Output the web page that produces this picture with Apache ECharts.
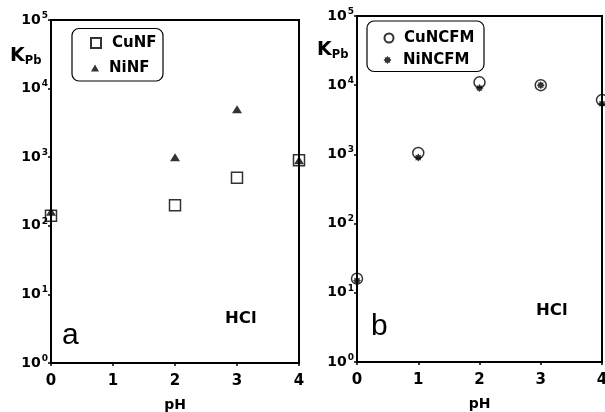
<!DOCTYPE html>
<html><head><meta charset="utf-8">
<script src="https://cdn.jsdelivr.net/npm/echarts@6/dist/echarts.min.js"></script>
<style>html,body{margin:0;padding:0;background:#fff}#c{width:605px;height:412px}</style>
</head><body><div id="c"></div>
<script>
const phA = [0, 2, 3, 4];
const cuNF = [140, 200, 500, 900];
const niNF = [160, 1000, 5000, 900];
const phB = [0, 1, 2, 3, 4];
const cuNCFM = [16, 1050, 11000, 10000, 6100];
const niNCFM = [15, 900, 9100, 10000, 5400];
const xTicks = [0, 1, 2, 3, 4];

const BOLD = '"DejaVu Sans", Verdana, sans-serif';
const THIN = '"Liberation Sans", Arial, Helvetica, sans-serif';
const chart = echarts.init(document.getElementById('c'), null, {renderer: 'canvas'});
const pair = (xs, ys) => xs.map((x, i) => [x, ys[i]]);
const star = 'path://M0,-10 L3,-6 L7.1,-7.1 L6,-3 L10,0 L6,3 L7.1,7.1 L3,6 L0,10 L-3,6 L-7.1,7.1 L-6,3 L-10,0 L-6,-3 L-7.1,-7.1 L-3,-6 Z';

function yAxis(gi) {
  return {
    type: 'log', logBase: 10, min: 1, max: 100000, gridIndex: gi,
    axisLine: {show: true, lineStyle: {color: '#000', width: 2}},
    axisTick: {show: true, length: 3, lineStyle: {color: '#000', width: 1.5}},
    minorTick: {show: false}, splitLine: {show: false},
    axisLabel: {
      margin: 3, color: '#000',
      formatter: v => '{b|10}{s|' + Math.round(Math.log10(v)) + '}',
      rich: {
        b: {fontFamily: BOLD, fontWeight: 'bold', fontSize: 14, color: '#000'},
        s: {fontFamily: BOLD, fontWeight: 'bold', fontSize: 9, color: '#000', verticalAlign: 'top', padding: [0, 0, 9, 1]}
      }
    }
  };
}
function xAxis(gi) {
  return {
    type: 'value', min: 0, max: 4, interval: 1, gridIndex: gi,
    name: 'pH', nameLocation: 'middle', nameGap: 35,
    nameTextStyle: {fontFamily: BOLD, fontWeight: 'bold', fontSize: 14, color: '#000'},
    axisLine: {show: true, lineStyle: {color: '#000', width: 2}},
    axisTick: {show: true, length: 3, lineStyle: {color: '#000', width: 1.5}},
    splitLine: {show: false},
    axisLabel: {margin: 11, color: '#000', fontFamily: BOLD, fontWeight: 'bold', fontSize: 15,
      formatter: v => xTicks.includes(v) ? String(v) : ''}
  };
}
function leg(name, left, cy, w, h, gap) {
  return {
    data: [name], left: left, top: cy - 8, padding: 0, itemWidth: w, itemHeight: h, selectedMode: false,
    textStyle: {fontFamily: BOLD, fontWeight: 'bold', fontSize: 15, color: '#000', lineHeight: 16, padding: [0, 0, 0, gap]}
  };
}

chart.setOption({
  animation: false,
  backgroundColor: '#fff',
  grid: [
    {left: 51, top: 20, width: 248, height: 343, outerBoundsMode: 'none', containLabel: false, show: true, borderColor: '#000', borderWidth: 2, backgroundColor: 'transparent'},
    {left: 357, top: 16, width: 245, height: 346, outerBoundsMode: 'none', containLabel: false, show: true, borderColor: '#000', borderWidth: 2, backgroundColor: 'transparent'}
  ],
  xAxis: [xAxis(0), xAxis(1)],
  yAxis: [yAxis(0), yAxis(1)],
  legend: [
    leg('CuNF', 90, 43, 10, 10, 6),
    leg('NiNF', 91, 68, 8, 7, 5),
    leg('CuNCFM', 383.5, 38, 9, 9, 5.5),
    leg('NiNCFM', 383.5, 60, 8, 8, 6.5)
  ],
  series: [
    {name: 'CuNF', type: 'scatter', xAxisIndex: 0, yAxisIndex: 0, symbol: 'rect', symbolSize: 11, clip: false,
     itemStyle: {color: 'rgba(255,255,255,0)', borderColor: '#000', borderWidth: 1.5}, data: pair(phA, cuNF), z: 3},
    {name: 'NiNF', type: 'scatter', xAxisIndex: 0, yAxisIndex: 0, symbol: 'triangle', symbolSize: [10, 8], clip: false,
     itemStyle: {color: '#000'}, data: pair(phA, niNF), z: 4},
    {name: 'CuNCFM', type: 'scatter', xAxisIndex: 1, yAxisIndex: 1, symbol: 'circle', symbolSize: 11, clip: false,
     itemStyle: {color: 'rgba(255,255,255,0)', borderColor: '#000', borderWidth: 1.5}, data: pair(phB, cuNCFM), z: 3},
    {name: 'NiNCFM', type: 'scatter', xAxisIndex: 1, yAxisIndex: 1, symbol: star, symbolSize: 8, clip: false,
     itemStyle: {color: '#000'}, data: pair(phB, niNCFM), z: 4}
  ],
  graphic: [
    {type: 'rect', shape: {x: 72, y: 28.5, width: 91, height: 52.5, r: 7}, style: {fill: 'none', stroke: '#000', lineWidth: 1.2}, z: 1},
    {type: 'rect', shape: {x: 367, y: 21, width: 117, height: 50.5, r: 7}, style: {fill: 'none', stroke: '#000', lineWidth: 1.2}, z: 1},
    {type: 'text', left: 10, top: 47, style: {rich: {k: {fontFamily: BOLD, fontWeight: 'bold', fontSize: 19, fill: '#000'}, p: {fontFamily: BOLD, fontWeight: 'bold', fontSize: 11.5, fill: '#000', padding: [9, 0, 0, 0]}}, text: '{k|K}{p|Pb}'}},
    {type: 'text', left: 317, top: 41, style: {rich: {k: {fontFamily: BOLD, fontWeight: 'bold', fontSize: 19, fill: '#000'}, p: {fontFamily: BOLD, fontWeight: 'bold', fontSize: 11.5, fill: '#000', padding: [9, 0, 0, 0]}}, text: '{k|K}{p|Pb}'}},
    {type: 'text', left: 62, top: 321, style: {text: 'a', fontFamily: THIN, fontSize: 30, fill: '#000'}},
    {type: 'text', left: 371, top: 312, style: {text: 'b', fontFamily: THIN, fontSize: 30, fill: '#000'}},
    {type: 'text', left: 225, top: 310, style: {text: 'HCl', fontFamily: BOLD, fontWeight: 'bold', fontSize: 16.5, fill: '#000'}},
    {type: 'text', left: 536, top: 302, style: {text: 'HCl', fontFamily: BOLD, fontWeight: 'bold', fontSize: 16.5, fill: '#000'}}
  ]
});
</script></body></html>
